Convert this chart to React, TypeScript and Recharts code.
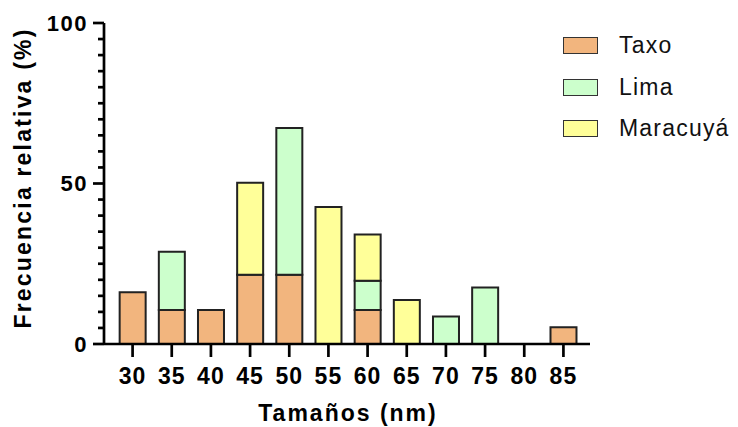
import { Bar, BarChart, Legend, XAxis, YAxis } from "recharts";

const SIZES = ["30", "35", "40", "45", "50", "55", "60", "65", "70", "75", "80", "85"];
const TAXO = [16.1, 10.6, 10.6, 21.6, 21.6, 0, 10.6, 0, 0, 0, 0, 5.2];
const LIMA = [0, 18.1, 0, 0, 45.7, 0, 9.1, 0, 8.6, 17.6, 0, 0];
const MARACUYA = [0, 0, 0, 28.6, 0, 42.7, 14.4, 13.7, 0, 0, 0, 0];
const Y_TICKS = [0, 5, 10, 15, 20, 25, 30, 35, 40, 45, 50, 55, 60, 65, 70, 75, 80, 85, 90, 95, 100];

const SERIES = [
  { key: "Taxo", color: "#F2B57E" },
  { key: "Lima", color: "#CCFFCC" },
  { key: "Maracuyá", color: "#FFFF99" },
];

const data = SIZES.map((s, i) => ({
  size: s,
  Taxo: TAXO[i],
  Lima: LIMA[i],
  "Maracuyá": MARACUYA[i],
}));

const FONT = "'Liberation Sans', Arial, sans-serif";

function YTick(props: any) {
  const { x, y, payload } = props;
  const major = payload.value % 50 === 0;
  return (
    <g>
      <line x1={x - (major ? 11 : 6)} x2={x} y1={y} y2={y} stroke="#000" strokeWidth={2.7} />
      {major && (
        <text
          x={x - 16}
          y={y}
          textAnchor="end"
          dominantBaseline="central"
          fontFamily={FONT}
          fontWeight="bold"
          fontSize={22}
          letterSpacing={1.5}
          fill="#000"
        >
          {payload.value}
        </text>
      )}
    </g>
  );
}

function XTitle() {
  return (
    <text x={348} y={421} textAnchor="middle" fontFamily={FONT} fontWeight="bold" fontSize={23} letterSpacing={2} fill="#000">
      Tamaños (nm)
    </text>
  );
}

function YTitle() {
  return (
    <text
      transform="translate(31,178) rotate(-90)"
      textAnchor="middle"
      fontFamily={FONT}
      fontWeight="bold"
      fontSize={23}
      letterSpacing={2.2}
      fill="#000"
    >
      Frecuencia relativa (%)
    </text>
  );
}

function LegendBox() {
  return (
    <div style={{ fontFamily: FONT }}>
      {SERIES.map((s) => (
        <div key={s.key} style={{ display: "flex", alignItems: "center", height: 41.5 }}>
          <div
            style={{
              width: 33,
              height: 15,
              background: s.color,
              border: "1.5px solid #333",
            }}
          />
          <span style={{ marginLeft: 21, fontSize: 23, letterSpacing: 1.2, color: "#111" }}>{s.key}</span>
        </div>
      ))}
    </div>
  );
}

export default function App() {
  return (
    <div style={{ position: "absolute", left: 0, top: 0, background: "#fff" }}>
      <BarChart
        width={738}
        height={427}
        data={data}
        margin={{ top: 23, right: 148, bottom: 0, left: 0 }}
        barCategoryGap="17%"
      >
        <XAxis
          dataKey="size"
          height={83}
          interval={0}
          padding={{ left: 9, right: 7 }}
          axisLine={{ stroke: "#000", strokeWidth: 2.7 }}
          tickLine={{ stroke: "#000", strokeWidth: 2.7 }}
          tickSize={13}
          tickMargin={11}
          tick={{ fill: "#000", fontSize: 23, fontWeight: "bold", fontFamily: FONT, letterSpacing: 1 }}
          label={<XTitle />}
        />
        <YAxis
          width={104}
          domain={[0, 100]}
          ticks={Y_TICKS}
          interval={0}
          tickSize={0}
          tickMargin={0}
          tickLine={false}
          axisLine={{ stroke: "#000", strokeWidth: 2.7 }}
          tick={<YTick />}
          label={<YTitle />}
        />
        <Legend
          verticalAlign="middle"
          align="center"
          layout="vertical"
          content={<LegendBox />}
          wrapperStyle={{ position: "absolute", left: 563, top: 25, width: 175 }}
        />
        {SERIES.map((s) => (
          <Bar
            key={s.key}
            dataKey={s.key}
            stackId="a"
            fill={s.color}
            stroke="#222"
            strokeWidth={2}
            isAnimationActive={false}
          />
        ))}
      </BarChart>
    </div>
  );
}
